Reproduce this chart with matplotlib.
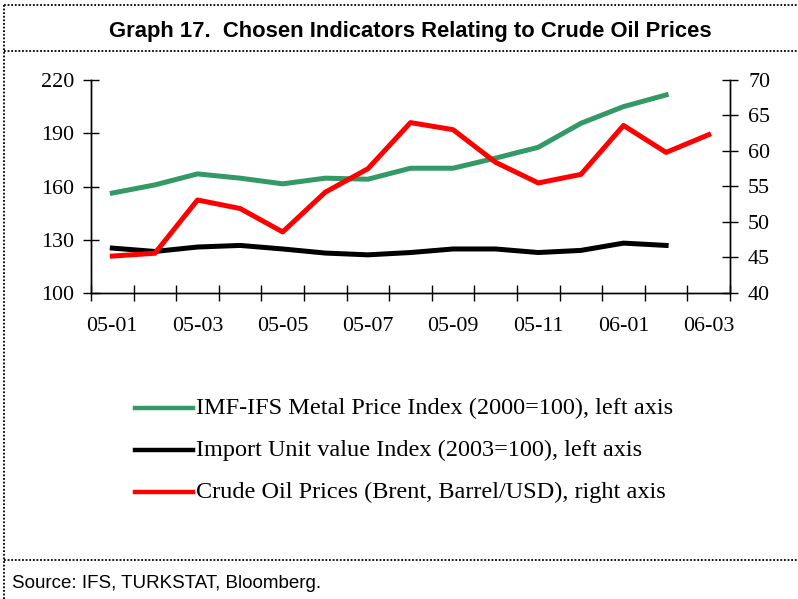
import matplotlib
matplotlib.use("Agg")
import matplotlib.pyplot as plt
from matplotlib.lines import Line2D
import numpy as np

months = ["05-01", "05-02", "05-03", "05-04", "05-05", "05-06", "05-07", "05-08",
          "05-09", "05-10", "05-11", "05-12", "06-01", "06-02", "06-03"]
metal = [156.3, 160.9, 167.1, 164.7, 161.5, 164.7, 164.1, 170.3, 170.3, 176.0,
         182.1, 195.6, 205.0, 211.6]
import_unit = [125.3, 123.4, 125.9, 126.8, 124.8, 122.5, 121.5, 122.8, 124.8, 124.8,
               122.8, 124.0, 128.1, 126.8]
brent = [45.2, 45.6, 53.1, 51.9, 48.6, 54.2, 57.5, 64.0, 63.0, 58.4, 55.5, 56.7,
         63.6, 59.8, 62.3]
labels = ["IMF-IFS Metal Price Index (2000=100), left axis",
          "Import Unit value Index (2003=100), left axis",
          "Crude Oil Prices (Brent, Barrel/USD), right axis"]
left_ticks = [100, 130, 160, 190, 220]
right_ticks = [40, 45, 50, 55, 60, 65, 70]

GREEN = "#339966"
RED = "#FF0000"
serif = ["Liberation Serif", "DejaVu Serif"]
narrow = ["Liberation Sans Narrow", "Liberation Sans", "DejaVu Sans"]

fig = plt.figure(figsize=(7.98, 5.99), dpi=100)
ax = fig.add_axes([91/798, 1-293/599, (730-91)/798, (293-80)/599])
ax2 = ax.twinx()

n = len(months)
xc = np.arange(n) + 0.5
LW = 3.6
l1, = ax.plot(xc[:len(metal)], metal, color=GREEN, lw=LW)
l2, = ax.plot(xc[:len(import_unit)], import_unit, color="black", lw=LW)
l3, = ax2.plot(xc[:len(brent)], brent, color=RED, lw=LW)

ax.set_xlim(0, n)
ax.set_ylim(100, 220)
ax2.set_ylim(40, 70)
ax.set_yticks(left_ticks)
ax2.set_yticks(right_ticks)
ax.set_xticks(np.arange(n + 1))
ax.set_xticklabels([])
ax.set_xticks(xc[::2], minor=True)
ax.set_xticklabels(months[::2], minor=True)

for a in (ax, ax2):
    a.spines["top"].set_visible(False)
    for s in a.spines.values():
        s.set_linewidth(1.0)
ax.tick_params(axis="both", which="major", direction="inout", length=12, width=1.0)
ax.tick_params(axis="x", which="minor", length=0, pad=17)
ax.tick_params(axis="y", which="major", pad=6)
ax2.tick_params(axis="y", direction="inout", length=12, width=1.0, pad=7)
for t in ax.get_yticklabels() + ax2.get_yticklabels() + ax.get_xticklabels(minor=True):
    t.set_fontfamily(serif)
    t.set_fontsize(15.8)

# legend drawn manually in figure coords
ys = [408, 450, 492]
for line, lab, y in zip([l1, l2, l3], labels, ys):
    fy = 1 - y/599
    fig.add_artist(Line2D([135/798, 193/798], [fy, fy], color=line.get_color(), lw=3.2,
                          transform=fig.transFigure))
    fig.text(196/798, fy, lab, fontfamily=serif, fontsize=17.5, va="center", ha="left")

fig.text(410/798, 1 - 31/599, "Graph 17.  Chosen Indicators Relating to Crude Oil Prices",
         fontfamily=narrow, fontweight="bold", fontsize=15.8, ha="center", va="center")
fig.text(12/798, 1 - 583/599, "Source: IFS, TURKSTAT, Bloomberg.",
         fontfamily=narrow, fontsize=13.5, ha="left", va="center")

dot = dict(color="black", lw=1.3, linestyle=(0, (1, 1)), transform=fig.transFigure)
fig.add_artist(Line2D([4/798, 1], [1 - 5/599, 1 - 5/599], **dot))
fig.add_artist(Line2D([4/798, 1], [1 - 51/599, 1 - 51/599], **dot))
fig.add_artist(Line2D([4/798, 1], [1 - 560/599, 1 - 560/599], **dot))
fig.add_artist(Line2D([4/798, 4/798], [0, 1 - 5/599], **dot))

fig.savefig("out.png", dpi=100)
